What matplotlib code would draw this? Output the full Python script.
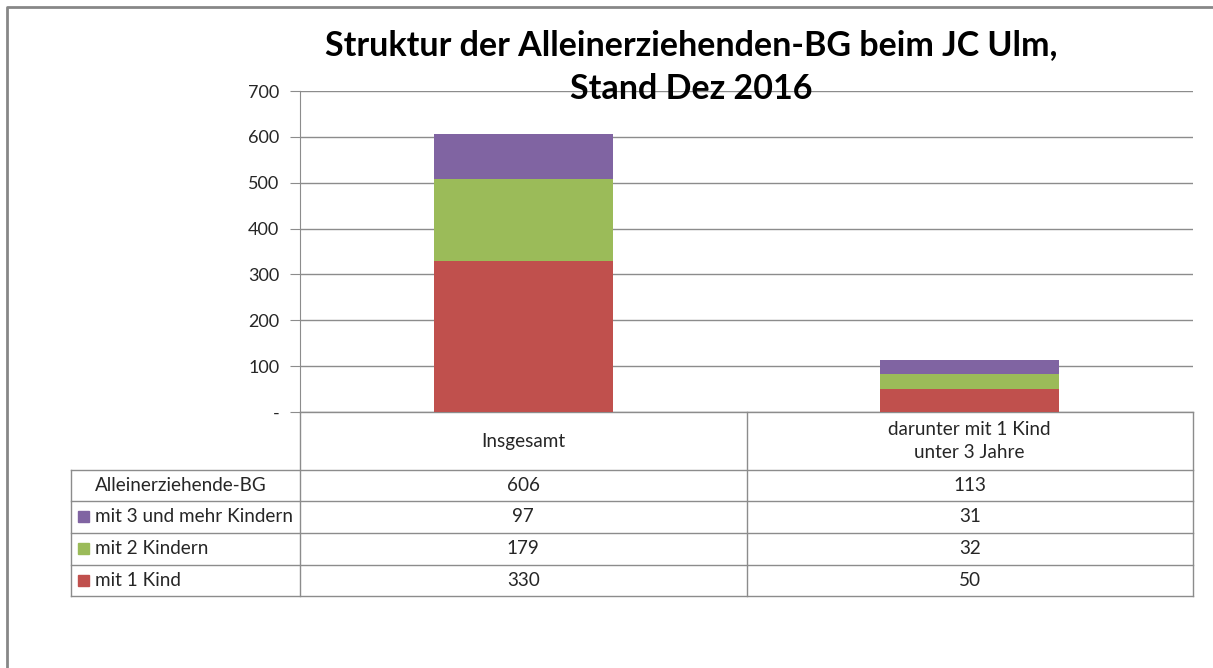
import matplotlib.pyplot as plt
from matplotlib.patches import Rectangle
from matplotlib.ticker import FuncFormatter

categories = ["Insgesamt", "darunter mit 1 Kind\nunter 3 Jahre"]
series_names = ["mit 1 Kind", "mit 2 Kindern", "mit 3 und mehr Kindern"]
mit_1_kind = [330, 50]
mit_2_kindern = [179, 32]
mit_3_kindern = [97, 31]
gesamt = [606, 113]
colors = ["#C0504D", "#9BBB59", "#8064A2"]
yticks = [0, 100, 200, 300, 400, 500, 600, 700]

W, H = 1213, 668
plt.rcParams["font.family"] = ["Lato", "DejaVu Sans"]
grid_col = "#8C8C8C"
txt_col = "#262626"
fs = 13.6

fig = plt.figure(figsize=(W / 100, H / 100), dpi=100)

# overlay in pixel coords for frame and table lines
ov = fig.add_axes([0, 0, 1, 1])
ov.set_xlim(0, W)
ov.set_ylim(H, 0)
ov.axis("off")

# plot area (pixels): x 300..1193, y 91..412
px0, px1, py0, py1 = 300, 1193, 91, 412
ax = fig.add_axes([px0 / W, (H - py1) / H, (px1 - px0) / W, (py1 - py0) / H])
ax.set_facecolor("none")

x = [0, 1]
bottom = [0, 0]
for vals, col in zip([mit_1_kind, mit_2_kindern, mit_3_kindern], colors):
    ax.bar(x, vals, width=0.4, bottom=bottom, color=col, zorder=3)
    bottom = [b + v for b, v in zip(bottom, vals)]

ax.set_xlim(-0.5, 1.5)
ax.set_ylim(0, 700)
ax.set_yticks(yticks)
ax.yaxis.set_major_formatter(FuncFormatter(lambda v, p: "-" if v == 0 else "%d" % v))
ax.tick_params(axis="y", length=7, color=grid_col, labelsize=13, labelcolor=txt_col, pad=8)
ax.set_xticks([])
ax.grid(axis="y", color=grid_col, lw=1, zorder=0)
for s in ["top", "right", "bottom"]:
    ax.spines[s].set_visible(False)
ax.spines["left"].set_color(grid_col)

fig.text(691 / W, 1 - 45 / H, "Struktur der Alleinerziehenden-BG beim JC Ulm,",
         ha="center", va="center", fontsize=24.5, fontweight="bold", color="black")
fig.text(691 / W, 1 - 89 / H, "Stand Dez 2016",
         ha="center", va="center", fontsize=24.5, fontweight="bold", color="black")

# frame
ov.plot([7, 7, W + 5], [H + 5, 7, 7], color="#878787", lw=2, clip_on=False)

# data table
def col_center(i):
    return px0 + (i + 0.5) * (px1 - px0) / 2

lab_x0 = 71
rows_y = [470, 501, 533, 565, 596]
lw = 1
ov.plot([px0, px0], [py1, rows_y[-1]], color=grid_col, lw=lw)
ov.plot([px1, px1], [py1, rows_y[-1]], color=grid_col, lw=lw)
ov.plot([col_center(0.5), col_center(0.5)], [py1, rows_y[-1]], color=grid_col, lw=lw)
ov.plot([px0, px1], [py1, py1], color=grid_col, lw=lw)
ov.plot([lab_x0, lab_x0], [rows_y[0], rows_y[-1]], color=grid_col, lw=lw)
for ry in rows_y:
    ov.plot([lab_x0, px1], [ry, ry], color=grid_col, lw=lw)

for i, c in enumerate(categories):
    ov.text(col_center(i), (py1 + rows_y[0]) / 2, c, ha="center", va="center",
            fontsize=fs, color=txt_col, linespacing=1.45)

row_labels = ["Alleinerziehende-BG"] + series_names[::-1]
row_vals = [gesamt, mit_3_kindern, mit_2_kindern, mit_1_kind]
row_cols = [None] + colors[::-1]
for r, (lab, vals, col) in enumerate(zip(row_labels, row_vals, row_cols)):
    yc = (rows_y[r] + rows_y[r + 1]) / 2
    if col is None:
        ov.text(181, yc, lab, ha="center", va="center", fontsize=fs, color=txt_col)
    else:
        ov.add_patch(Rectangle((78, yc - 6), 11, 11, color=col))
        ov.text(95, yc, lab, ha="left", va="center", fontsize=fs, color=txt_col)
    for i, v in enumerate(vals):
        ov.text(col_center(i), yc, str(v), ha="center", va="center", fontsize=fs, color=txt_col)

fig.savefig("out.png", dpi=100)
